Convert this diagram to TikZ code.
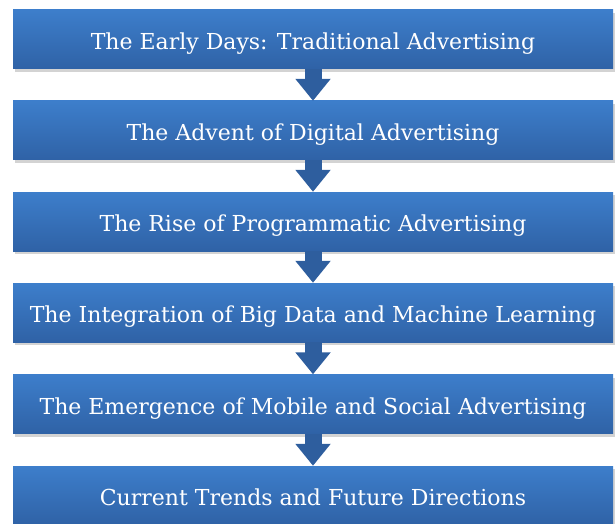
\documentclass[tikz,border=0pt]{standalone}
\usepackage{fontspec}
\setmainfont{DejaVu Serif}
\usetikzlibrary{arrows.meta,shadows}

\definecolor{boxtop}{RGB}{61,126,203}
\definecolor{boxbot}{RGB}{47,98,166}
\definecolor{arrowblue}{RGB}{46,94,158}

\begin{document}
\begin{tikzpicture}[x=1pt, y=-1pt,
		box_style/.style={rectangle, top color=boxtop, bottom color=boxbot,
			minimum width=600pt, minimum height=59pt, inner sep=0pt,
			text height=25pt, text depth=5pt,
			text=white, font=\fontsize{22}{26}\selectfont,
			drop shadow={opacity=0.35, shadow xshift=2pt, shadow yshift=-3pt}},
		arrow_style/.style={draw=arrowblue, line width=17pt,
			-{Triangle[width=34pt, length=22pt]}}]
		
		\useasboundingbox (0,0) rectangle (616,524);
		
		\node[box_style] (s1) at (313,39.5)  {The Early Days: Traditional Advertising};
		\node[box_style] (s2) at (313,130.5) {The Advent of Digital Advertising};
		\node[box_style] (s3) at (313,221.5) {The Rise of Programmatic Advertising};
		\node[box_style] (s4) at (313,312.5) {The Integration of Big Data and Machine Learning};
		\node[box_style] (s5) at (313,404)   {The Emergence of Mobile and Social Advertising};
		\node[box_style] (s6) at (313,495.5) {Current Trends and Future Directions};
		
		\draw[arrow_style] (s1.south) -- (s2.north);
		\draw[arrow_style] (s2.south) -- (s3.north);
		\draw[arrow_style] (s3.south) -- (s4.north);
		\draw[arrow_style] (s4.south) -- (s5.north);
		\draw[arrow_style] (s5.south) -- (s6.north);
		
\end{tikzpicture}
\end{document}
